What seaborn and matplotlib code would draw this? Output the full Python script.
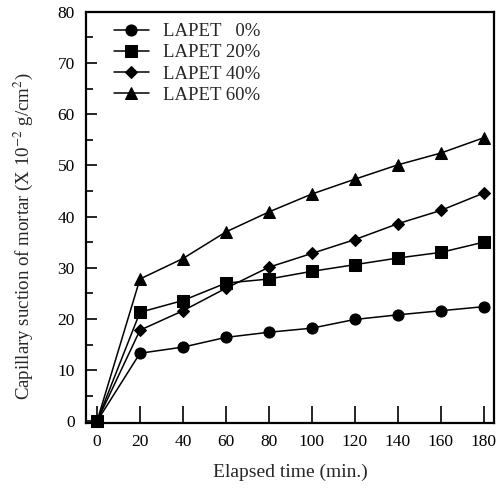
import numpy as np
import pandas as pd
import matplotlib
matplotlib.use("Agg")
import matplotlib.pyplot as plt
import seaborn as sns
from matplotlib.ticker import MultipleLocator

# data
time_min = [0, 20, 40, 60, 80, 100, 120, 140, 160, 180]
lapet_0 = [0, 13.3, 14.5, 16.4, 17.4, 18.2, 19.9, 20.8, 21.6, 22.4]
lapet_20 = [0, 21.3, 23.6, 27.0, 27.8, 29.3, 30.6, 31.9, 33.0, 35.0]
lapet_40 = [0, 17.8, 21.6, 26.0, 30.1, 32.8, 35.5, 38.6, 41.2, 44.6]
lapet_60 = [0, 27.8, 31.8, 37.0, 40.9, 44.4, 47.3, 50.1, 52.4, 55.4]
labels = ["LAPET   0%", "LAPET 20%", "LAPET 40%", "LAPET 60%"]
markers = ["o", "s", "D", "^"]
msizes = [8, 8, 6.5, 8.5]

sns.set_theme(style="ticks")
plt.rcParams['font.family'] = ['Liberation Serif', 'DejaVu Serif']
plt.rcParams['mathtext.fontset'] = 'stix'

df = pd.DataFrame({"time": time_min * 4,
                   "value": lapet_0 + lapet_20 + lapet_40 + lapet_60,
                   "series": np.repeat(labels, len(time_min))})

fig = plt.figure(figsize=(5.03, 4.9), dpi=100)
ax = fig.add_axes([0.171, 0.137, 0.811, 0.839])

for lab, m, ms in zip(labels, markers, msizes):
    sub = df[df.series == lab]
    sns.lineplot(x="time", y="value", data=sub, ax=ax, color="black",
                 marker=m, markersize=ms, markeredgecolor="black",
                 linewidth=1.1, label=lab, clip_on=False, zorder=3)

ax.set_xlim(-5.1, 184.7)
ax.set_ylim(-0.3, 80)
ax.xaxis.set_major_locator(MultipleLocator(20))
ax.yaxis.set_major_locator(MultipleLocator(10))
ax.yaxis.set_minor_locator(MultipleLocator(5))
ax.tick_params(axis="both", which="both", direction="in", labelsize=12.5,
               colors="black", width=1.2)
ax.tick_params(axis="x", which="major", length=12, top=False, pad=8)
ax.tick_params(axis="y", which="major", length=8, right=False, pad=8)
ax.tick_params(axis="y", which="minor", length=5, right=False)
for s in ax.spines.values():
    s.set_visible(True)
    s.set_linewidth(1.6)
    s.set_color("black")

ax.set_xlabel("Elapsed time (min.)", fontsize=14, labelpad=10)
ax.set_ylabel(r"Capillary suction of mortar (X 10$^{-2}$ g/cm$^2$)", fontsize=13.6)
ax.yaxis.set_label_coords(-0.125, 0.453)

ax.legend(loc="upper left", frameon=False, fontsize=13.5, handlelength=1.9,
          labelspacing=0.22, borderaxespad=0.2, handletextpad=0.75,
          bbox_to_anchor=(0.04, 1.0))

fig.savefig("out.png", dpi=100)
